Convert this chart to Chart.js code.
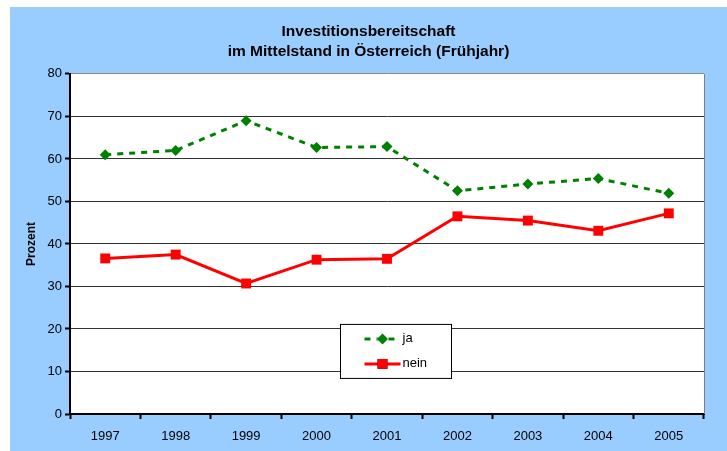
<!DOCTYPE html>
<html>
<head>
<meta charset="utf-8">
<script src="https://cdn.jsdelivr.net/npm/chart.js@4/dist/chart.umd.min.js"></script>
<style>
  html, body { margin: 0; padding: 0; background: #ffffff; }
  #wrap { position: absolute; left: 10px; top: 7px; width: 717px; height: 444px; background: #99ccff; }
  canvas { display: block; }
</style>
</head>
<body>
<div id="wrap"><canvas id="c" width="717" height="444"></canvas></div>
<script>
const years = ['1997', '1998', '1999', '2000', '2001', '2002', '2003', '2004', '2005'];
const jaValues = [61.0, 62.0, 69.0, 62.7, 62.9, 52.5, 54.1, 55.4, 51.9];
const neinValues = [36.6, 37.5, 30.7, 36.3, 36.5, 46.5, 45.5, 43.1, 47.2];
const seriesNames = ['ja', 'nein'];
const titleLines = ['Investitionsbereitschaft', 'im Mittelstand in Österreich (Frühjahr)'];
const yAxisTitle = 'Prozent';

const FONT = '"Liberation Sans", Arial, sans-serif';

const framePlugin = {
  id: 'frame',
  beforeDraw(chart) {
    const { ctx, chartArea: a } = chart;
    ctx.save();
    ctx.fillStyle = '#ffffff';
    ctx.fillRect(a.left, a.top, a.right - a.left, a.bottom - a.top);
    ctx.restore();
  },
  beforeDatasetsDraw(chart) {
    const { ctx, chartArea: a } = chart;
    ctx.save();
    ctx.strokeStyle = '#808080';
    ctx.lineWidth = 1;
    ctx.beginPath();
    ctx.moveTo(a.right + 0.5, a.top);
    ctx.lineTo(a.right + 0.5, a.bottom);
    ctx.stroke();
    ctx.restore();
  }
};

const legendBoxPlugin = {
  id: 'legendBox',
  afterDatasetsDraw(chart) {
    const { ctx, chartArea: a } = chart;
    const x = a.left + 270.5, y = a.top + 250.5, w = 111, h = 54;
    ctx.save();
    ctx.fillStyle = '#ffffff';
    ctx.fillRect(x, y, w, h);
    ctx.strokeStyle = '#000000';
    ctx.lineWidth = 1;
    ctx.strokeRect(x, y, w, h);
    chart.data.datasets.forEach((ds, i) => {
      const cy = y + 14.5 + i * 25;
      const x1 = x + 24, x2 = x + 60, cx = (x1 + x2) / 2;
      ctx.strokeStyle = ds.borderColor;
      ctx.lineWidth = ds.borderWidth;
      ctx.setLineDash(ds.borderDash || []);
      ctx.beginPath();
      ctx.moveTo(x1, cy);
      ctx.lineTo(x2, cy);
      ctx.stroke();
      ctx.setLineDash([]);
      Chart.helpers.drawPoint(ctx, {
        pointStyle: ds.pointStyle,
        radius: ds.pointRadius,
        borderWidth: 0,
        rotation: 0
      }, cx, cy);
      ctx.fillStyle = ds.pointBackgroundColor;
      ctx.fill();
      ctx.fillStyle = '#000000';
      ctx.font = '13px ' + FONT;
      ctx.textBaseline = 'middle';
      ctx.textAlign = 'left';
      ctx.fillText(ds.label, x2 + 2, cy);
    });
    ctx.restore();
  }
};

new Chart(document.getElementById('c'), {
  type: 'line',
  data: {
    labels: years,
    datasets: [
      {
        label: seriesNames[0],
        data: jaValues,
        borderColor: '#008000',
        backgroundColor: '#008000',
        pointBackgroundColor: '#008000',
        pointBorderColor: '#008000',
        borderWidth: 3,
        borderDash: [6, 6],
        pointStyle: 'rectRot',
        pointRadius: 5.5,
        pointBorderWidth: 0,
        tension: 0
      },
      {
        label: seriesNames[1],
        data: neinValues,
        borderColor: '#ff0000',
        backgroundColor: '#ff0000',
        pointBackgroundColor: '#ff0000',
        pointBorderColor: '#ff0000',
        borderWidth: 3,
        pointStyle: 'rect',
        pointRadius: 7,
        pointBorderWidth: 0,
        tension: 0
      }
    ]
  },
  options: {
    responsive: false,
    animation: false,
    events: [],
    layout: { padding: 0 },
    plugins: {
      legend: { display: false },
      tooltip: { enabled: false },
      title: {
        display: true,
        text: titleLines,
        color: '#000000',
        font: { family: FONT, size: 15.5, weight: 'bold', lineHeight: 1.32 },
        padding: { top: 14, bottom: 12 }
      }
    },
    scales: {
      x: {
        offset: true,
        afterFit(scale) { scale.height = 37; },
        grid: {
          offset: true,
          drawOnChartArea: false,
          drawTicks: true,
          tickLength: 5,
          tickWidth: 2,
          tickColor: '#000000'
        },
        border: { display: true, color: '#000000', width: 2 },
        ticks: {
          color: '#000000',
          font: { family: FONT, size: 13 },
          padding: 10,
          maxRotation: 0
        }
      },
      y: {
        min: 0,
        max: 80,
        afterFit(scale) { scale.width = 60; },
        grid: {
          color: (c) => (c.tick && c.tick.value === 80 ? '#888888' : '#333333'),
          lineWidth: 1,
          drawTicks: true,
          tickLength: 5,
          tickColor: '#000000',
          tickWidth: 2
        },
        border: { display: true, color: '#000000', width: 2 },
        ticks: {
          stepSize: 10,
          color: '#000000',
          font: { family: FONT, size: 13 },
          padding: 3
        },
        title: {
          display: true,
          text: yAxisTitle,
          color: '#000000',
          font: { family: FONT, size: 12, weight: 'bold' },
          padding: { top: 14, bottom: 4 }
        }
      },
      yRight: {
        position: 'right',
        min: 0,
        max: 80,
        afterFit(scale) { scale.width = 23; },
        grid: { display: false, drawOnChartArea: false, drawTicks: false },
        border: { display: false },
        ticks: { display: false }
      }
    }
  },
  plugins: [framePlugin, legendBoxPlugin]
});
</script>
</body>
</html>
